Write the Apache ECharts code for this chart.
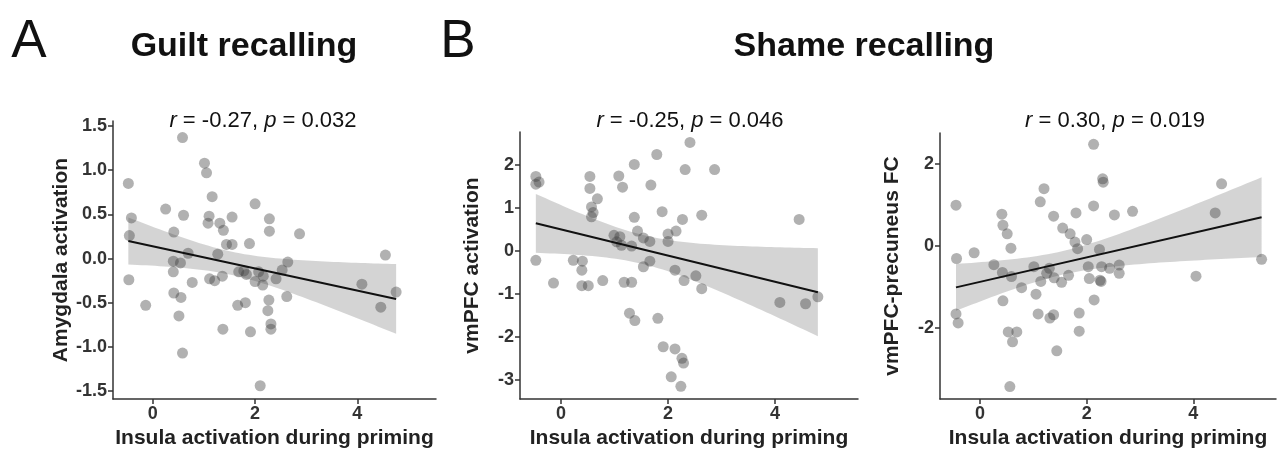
<!DOCTYPE html>
<html>
<head>
<meta charset="utf-8">
<title>Insula activation during priming</title>
<script src="https://cdn.jsdelivr.net/npm/echarts@6/dist/echarts.min.js"></script>
<style>
html, body { margin: 0; padding: 0; background: #fff; }
#chart { width: 1280px; height: 454px; }
</style>
</head>
<body>
<div id="chart"></div>
<script>
// A: guilt recalling
var guiltInsula = [-0.48, -0.42, -0.46, -0.47, -0.14, 0.25, 0.41, 0.58, 0.60, 0.69,
    0.40, 0.54, 0.40, 0.77, 0.41, 0.55, 0.51, 0.58, 1.01, 1.05,
    1.16, 1.10, 1.08, 1.31, 1.38, 1.55, 1.44, 1.55, 1.27, 1.11,
    1.21, 1.36, 1.37, 1.68, 1.78, 1.83, 1.66, 1.81, 1.89, 1.91,
    2.00, 2.00, 2.07, 2.16, 2.15, 2.10, 2.28, 2.28, 2.27, 2.25,
    2.31, 2.31, 2.41, 2.53, 2.64, 2.62, 2.87, 4.09, 4.46, 4.55,
    4.76];
var guiltAmygdala = [0.85, 0.46, 0.26, -0.24, -0.53, 0.56, 0.30, 1.37, 0.49, 0.06,
    -0.03, -0.05, -0.15, -0.27, -0.39, -0.44, -0.65, -1.07, 1.08, 0.97,
    0.70, 0.48, 0.40, 0.40, 0.32, 0.47, 0.16, 0.16, 0.05, -0.23,
    -0.25, -0.20, -0.80, -0.15, -0.14, -0.18, -0.53, -0.50, 0.17, -0.83,
    0.62, -0.26, -0.15, -0.20, -0.30, -1.44, 0.45, 0.31, -0.47, -0.59,
    -0.74, -0.80, -0.23, -0.13, -0.04, -0.43, 0.28, -0.29, -0.55, 0.04,
    -0.38];

// B: shame recalling, vmPFC
var shameInsulaB = [-0.47, -0.47, -0.41, -0.47, -0.14, 0.23, 0.40, 0.39, 0.39, 0.51,
    0.54, 0.54, 0.68, 0.57, 0.60, 0.57, 0.78, 0.99, 1.10, 1.04,
    1.13, 1.32, 1.08, 1.15, 1.37, 1.37, 1.43, 1.54, 1.18, 1.32,
    1.28, 1.38, 1.54, 1.66, 1.66, 1.68, 1.79, 1.81, 1.89, 1.91,
    2.00, 2.00, 2.06, 2.15, 2.13, 2.13, 2.26, 2.29, 2.24, 2.27,
    2.30, 2.32, 2.41, 2.52, 2.63, 2.63, 2.87, 4.09, 4.45, 4.57,
    4.80];
var shameVmpfc = [1.73, 1.55, 1.60, -0.22, -0.75, -0.22, -0.24, -0.45, -0.81, -0.81,
    1.73, 1.45, 1.21, 1.02, 0.89, 0.79, -0.69, 0.36, 0.33, 0.21,
    0.13, 0.11, 1.74, 1.48, 2.01, 0.78, 0.46, 0.30, -0.73, -0.73,
    -1.45, -1.62, -0.37, -0.24, 0.22, 1.53, 2.24, -1.57, 0.91, -2.23,
    0.39, 0.22, -2.93, 0.46, -0.45, -2.28, -2.50, -2.61, -3.15, 0.73,
    -0.69, 1.89, 2.52, -0.58, 0.83, -0.88, 1.89, -1.20, 0.73, -1.23,
    -1.07];

// C: shame recalling, vmPFC-precuneus FC
var shameInsulaC = [-0.45, -0.44, -0.45, -0.41, -0.11, 0.26, 0.41, 0.43, 0.51, 0.58,
    0.42, 0.59, 0.43, 0.78, 0.53, 0.69, 0.61, 0.56, 1.13, 1.20,
    1.38, 1.55, 1.69, 1.78, 1.80, 1.01, 1.30, 1.25, 1.05, 1.09,
    1.14, 1.31, 1.38, 1.39, 1.44, 1.53, 1.66, 1.86, 1.86, 1.83,
    2.00, 2.24, 2.03, 2.28, 2.43, 2.61, 2.61, 2.05, 2.25, 2.27,
    2.14, 2.13, 2.30, 2.31, 2.13, 2.52, 2.86, 4.05, 4.41, 4.53,
    5.28];
var shameFc = [0.99, -0.31, -1.66, -1.88, -0.17, -0.46, 0.77, 0.50, 0.29, -0.06,
    -0.65, -0.75, -1.34, -1.02, -2.10, -2.10, -2.34, -3.43, 1.07, 1.39,
    0.72, 0.43, 0.29, 0.09, 0.80, -0.51, -0.55, -0.67, -1.18, -1.66,
    -0.87, -1.76, -1.68, -0.78, -2.56, -0.89, -0.72, -1.64, -2.08, -0.07,
    0.15, -0.09, -0.51, -0.51, -0.55, -0.47, -0.67, -0.80, -0.84, -0.87,
    -1.32, 2.47, 1.63, 1.55, 0.97, 0.75, 0.84, -0.74, 0.80, 1.51,
    -0.33];

var xTicks = [0, 2, 4];
var yTicksA = [-1.5, -1.0, -0.5, 0, 0.5, 1.0, 1.5];
var yTicksB = [-3, -2, -1, 0, 1, 2];
var yTicksC = [-2, 0, 2];

var statsA = ['-0.27', '0.032'];
var statsB = ['-0.25', '0.046'];
var statsC = ['0.30', '0.019'];

var FONT = '"Liberation Sans", Arial, Helvetica, sans-serif';
var tCrit = 2.0;

// linear fit with 95% band
function fit(xs, ys) {
    var n = xs.length, mx = 0, my = 0;
    for (var i = 0; i < n; i++) { mx += xs[i]; my += ys[i]; }
    mx /= n; my /= n;
    var sxx = 0, sxy = 0;
    for (i = 0; i < n; i++) {
        sxx += (xs[i] - mx) * (xs[i] - mx);
        sxy += (xs[i] - mx) * (ys[i] - my);
    }
    var b = sxy / sxx, a = my - b * mx, sse = 0;
    for (i = 0; i < n; i++) {
        var r = ys[i] - a - b * xs[i];
        sse += r * r;
    }
    var s = Math.sqrt(sse / (n - 2));
    var x0 = Math.min.apply(null, xs), x1 = Math.max.apply(null, xs);
    var upper = [], lower = [];
    for (var k = 0; k <= 60; k++) {
        var x = x0 + (x1 - x0) * k / 60;
        var yh = a + b * x;
        var se = s * Math.sqrt(1 / n + (x - mx) * (x - mx) / sxx);
        upper.push([x, yh + tCrit * se]);
        lower.push([x, yh - tCrit * se]);
    }
    return { line: [[x0, a + b * x0], [x1, a + b * x1]], upper: upper, lower: lower };
}

function panelSeries(idx, xs, ys) {
    var f = fit(xs, ys);
    var pts = xs.map(function (x, i) { return [x, ys[i]]; });
    return [
        {
            type: 'custom',
            xAxisIndex: idx,
            yAxisIndex: idx,
            silent: true,
            z: 1,
            data: [f.line[0]],
            renderItem: function (params, api) {
                var poly = f.upper.map(function (p) { return api.coord(p); })
                    .concat(f.lower.slice().reverse().map(function (p) { return api.coord(p); }));
                return { type: 'polygon', shape: { points: poly }, style: { fill: 'rgba(153,153,153,0.42)' } };
            }
        },
        {
            type: 'scatter',
            xAxisIndex: idx,
            yAxisIndex: idx,
            z: 2,
            symbolSize: 11,
            itemStyle: { color: 'rgba(60,60,60,0.5)' },
            data: pts
        },
        {
            type: 'line',
            xAxisIndex: idx,
            yAxisIndex: idx,
            z: 3,
            showSymbol: false,
            lineStyle: { color: '#111', width: 2 },
            data: f.line
        }
    ];
}

function xAxis(idx, min, max) {
    return {
        type: 'value', gridIndex: idx, min: min, max: max,
        name: 'Insula activation during priming',
        nameLocation: 'middle', nameGap: 26,
        nameTextStyle: { fontFamily: FONT, fontWeight: 'bold', fontSize: 21, color: '#222' },
        axisLine: { onZero: false, lineStyle: { color: '#333', width: 1.5 } },
        axisTick: { length: 5, lineStyle: { color: '#333', width: 1.5 }, customValues: xTicks },
        axisLabel: { fontFamily: FONT, fontWeight: 'bold', fontSize: 18, color: '#333', margin: 6, customValues: xTicks },
        splitLine: { show: false }
    };
}

function yAxis(idx, min, max, ticks, name, digits) {
    return {
        type: 'value', gridIndex: idx, min: min, max: max,
        name: name,
        nameLocation: 'middle', nameGap: 37, nameRotate: 90,
        nameTextStyle: { fontFamily: FONT, fontWeight: 'bold', fontSize: 21, color: '#222' },
        axisLine: { onZero: false, lineStyle: { color: '#333', width: 1.5 } },
        axisTick: { length: 5, lineStyle: { color: '#333', width: 1.5 }, customValues: ticks },
        axisLabel: {
            fontFamily: FONT, fontWeight: 'bold', fontSize: 18, color: '#333', margin: 6, customValues: ticks,
            formatter: function (v) { return v.toFixed(digits); }
        },
        splitLine: { show: false }
    };
}

function statText(cx, vals) {
    return {
        type: 'text', x: cx, y: 121,
        style: {
            text: '{i|r} = ' + vals[0] + ', {i|p} = ' + vals[1],
            rich: { i: { fontStyle: 'italic', fontFamily: FONT, fontSize: 22, fill: '#111' } },
            font: '22px ' + FONT, fill: '#111', align: 'center', verticalAlign: 'middle'
        }
    };
}

function heading(cx, cy, text, size, weight) {
    return {
        type: 'text', x: cx, y: cy,
        style: { text: text, font: weight + ' ' + size + 'px ' + FONT, fill: '#111', align: 'center', verticalAlign: 'middle' }
    };
}

var chart = echarts.init(document.getElementById('chart'));
chart.setOption({
    animation: false,
    backgroundColor: '#fff',
    grid: [
        { left: 113, top: 121, width: 323, height: 279 },
        { left: 520, top: 132, width: 338, height: 272 },
        { left: 940, top: 133, width: 336, height: 269 }
    ],
    xAxis: [
        xAxis(0, -0.78, 5.54),
        xAxis(1, -0.766, 5.55),
        xAxis(2, -0.75, 5.55)
    ],
    yAxis: [
        yAxis(0, -1.591, 1.557, yTicksA, 'Amygdala activation', 1),
        yAxis(1, -3.447, 2.763, yTicksB, 'vmPFC activation', 0),
        yAxis(2, -3.735, 2.747, yTicksC, 'vmPFC-precuneus FC', 0)
    ],
    graphic: [
        heading(29, 42, 'A', 53, 'normal'),
        heading(244, 47, 'Guilt recalling', 34, 'bold'),
        heading(458, 42, 'B', 53, 'normal'),
        heading(864, 47, 'Shame recalling', 34, 'bold'),
        statText(263, statsA),
        statText(690, statsB),
        statText(1115, statsC)
    ],
    series: [].concat(
        panelSeries(0, guiltInsula, guiltAmygdala),
        panelSeries(1, shameInsulaB, shameVmpfc),
        panelSeries(2, shameInsulaC, shameFc)
    )
});
</script>
</body>
</html>
